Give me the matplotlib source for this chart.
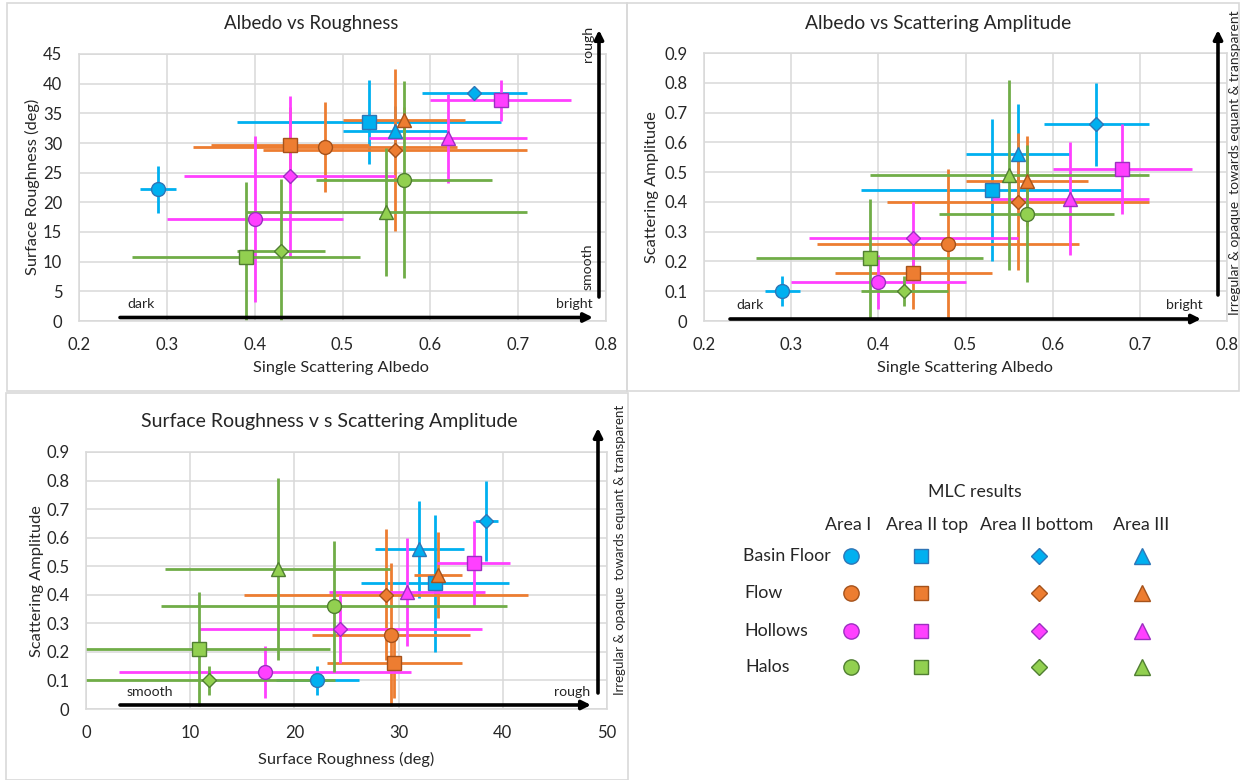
import matplotlib
matplotlib.use("Agg")
import matplotlib.pyplot as plt
from matplotlib.patches import Rectangle, FancyArrowPatch

plt.rcParams['font.family'] = ['Lato', 'DejaVu Sans']

# ---------------- data ----------------
materials = ["Basin Floor", "Flow", "Hollows", "Halos"]
areas = ["Area I", "Area II top", "Area II bottom", "Area III"]

# rows: materials, columns: areas
albedo = [[0.29, 0.53, 0.65, 0.56],
          [0.48, 0.44, 0.56, 0.57],
          [0.40, 0.68, 0.44, 0.62],
          [0.57, 0.39, 0.43, 0.55]]
albedo_err = [[0.02, 0.15, 0.06, 0.06],
              [0.15, 0.09, 0.15, 0.07],
              [0.10, 0.08, 0.12, 0.09],
              [0.10, 0.13, 0.05, 0.16]]
roughness = [[22.2, 33.5, 38.4, 32.0],
             [29.3, 29.6, 28.8, 33.8],
             [17.2, 37.2, 24.4, 30.8],
             [23.8, 10.8, 11.8, 18.4]]
roughness_err = [[4.0, 7.1, 1.1, 4.3],
                 [7.6, 6.5, 13.6, 2.3],
                 [14.0, 3.5, 13.6, 7.5],
                 [16.6, 12.6, 12.1, 10.8]]
amplitude = [[0.10, 0.44, 0.66, 0.56],
             [0.26, 0.16, 0.40, 0.47],
             [0.13, 0.51, 0.28, 0.41],
             [0.36, 0.21, 0.10, 0.49]]
amplitude_err = [[0.05, 0.24, 0.14, 0.17],
                 [0.25, 0.12, 0.23, 0.15],
                 [0.09, 0.15, 0.12, 0.19],
                 [0.23, 0.20, 0.05, 0.32]]

line_colors = ["#00B0F0", "#ED7D31", "#FF40FF", "#70AD47"]
face_colors = ["#00B0F0", "#ED7D31", "#FF40FF", "#92D050"]
edge_colors = ["#2E75B6", "#A5521B", "#9B30C0", "#507E32"]
markers = ["o", "s", "D", "^"]
msizes = [10, 9.5, 7.5, 10.5]

W, H = 1246, 780
fig = plt.figure(figsize=(W / 100, H / 100), dpi=100)
fig.patch.set_facecolor("white")


def fx(x):
    return x / W


def fy(y):
    return 1 - y / H


def box(x0, y0, x1, y1):
    return [fx(x0), fy(y1), (x1 - x0) / W, (y1 - y0) / H]


# panel borders
for (x0, y0, x1, y1) in [(7, 3, 627, 391), (627, 3, 1239, 391), (6, 393, 628, 780)]:
    fig.add_artist(Rectangle((fx(x0), fy(y1)), (x1 - x0) / W, (y1 - y0) / H,
                             transform=fig.transFigure, fill=False,
                             edgecolor="#D9D9D9", lw=1.2))

TXT = "#262626"
TICK_FS = 12
LAB_FS = 11.8


def make_axes(rect_px, xlim, xticks, ylim, yticks, xfmt, yfmt):
    ax = fig.add_axes(box(*rect_px))
    ax.set_xlim(*xlim)
    ax.set_ylim(*ylim)
    ax.set_xticks(xticks)
    ax.set_yticks(yticks)
    ax.set_xticklabels([xfmt(v) for v in xticks])
    ax.set_yticklabels([yfmt(v) for v in yticks])
    ax.grid(True, color="#D9D9D9", lw=1.1)
    ax.set_axisbelow(True)
    for s in ax.spines.values():
        s.set_color("#D9D9D9")
        s.set_linewidth(1.1)
    ax.tick_params(length=0, labelsize=TICK_FS, colors=TXT)
    ax.tick_params(axis="y", pad=12)
    ax.tick_params(axis="x", pad=11.5)
    return ax


def plot_series(ax, xs, xerr, ys, yerr):
    for m in range(4):
        for a in range(4):
            ax.errorbar(xs[m][a], ys[m][a], xerr=xerr[m][a], yerr=yerr[m][a],
                        fmt="none", ecolor=line_colors[m], elinewidth=2.0,
                        capsize=0, zorder=2)
    for m in range(4):
        for a in range(4):
            ax.plot(xs[m][a], ys[m][a], linestyle="none", marker=markers[a],
                    markersize=msizes[a], markerfacecolor=face_colors[m],
                    markeredgecolor=edge_colors[m], markeredgewidth=1.0,
                    zorder=3, clip_on=False)


def f1(v):
    return f"{v:.1f}"


def f0(v):
    return f"{v:g}"


def arrow(x0, y0, x1, y1):
    fig.add_artist(FancyArrowPatch((fx(x0), fy(y0)), (fx(x1), fy(y1)),
                                   transform=fig.transFigure,
                                   arrowstyle="-|>", mutation_scale=13,
                                   lw=2.6, color="black", shrinkA=0, shrinkB=0))


def axpos(px, py, rect_px):
    x0, y0, x1, y1 = rect_px
    return (px - x0) / (x1 - x0), (y1 - py) / (y1 - y0)


def axis_labels(ax, rect_px, xl, xpos, yl, ypos):
    ax.set_xlabel(xl, fontsize=LAB_FS, color=TXT)
    ax.set_ylabel(yl, fontsize=LAB_FS, color=TXT)
    ax.xaxis.label.set_va("center")
    ax.yaxis.label.set_va("center")
    ax.xaxis.set_label_coords(*axpos(*xpos, rect_px))
    ax.yaxis.set_label_coords(*axpos(*ypos, rect_px))


# ---------------- chart 1: Albedo vs Roughness ----------------
r1 = (79, 54, 606, 321)
ax1 = make_axes(r1, (0.2, 0.8), [0.2, 0.3, 0.4, 0.5, 0.6, 0.7, 0.8],
                (0, 45), list(range(0, 50, 5)), f1, f0)
plot_series(ax1, albedo, albedo_err, roughness, roughness_err)
axis_labels(ax1, r1, "Single Scattering Albedo", (341, 368),
            "Surface Roughness (deg)", (32, 187))
fig.text(fx(311), fy(24), "Albedo vs Roughness", fontsize=13.4, color=TXT,
         ha="center", va="center")
arrow(120, 317.5, 593, 317.5)
arrow(599, 297, 599, 30)
fig.text(fx(127), fy(304), "dark", fontsize=10.2, color=TXT, ha="left", va="center")
fig.text(fx(593), fy(304), "bright", fontsize=10.2, color=TXT, ha="right", va="center")
fig.text(fx(588), fy(44), "rough", fontsize=10.2, color=TXT, ha="center",
         va="center", rotation=90)
fig.text(fx(588), fy(267), "smooth", fontsize=10.2, color=TXT, ha="center",
         va="center", rotation=90)

# ---------------- chart 2: Albedo vs Scattering Amplitude ----------------
r2 = (704, 53, 1227, 321)
ax2 = make_axes(r2, (0.2, 0.8), [0.2, 0.3, 0.4, 0.5, 0.6, 0.7, 0.8],
                (0, 0.9), [i / 10 for i in range(10)], f1, f0)
plot_series(ax2, albedo, albedo_err, amplitude, amplitude_err)
axis_labels(ax2, r2, "Single Scattering Albedo", (965, 368),
            "Scattering Amplitude", (652, 187))
fig.text(fx(938), fy(24), "Albedo vs Scattering Amplitude", fontsize=13.9,
         color=TXT, ha="center", va="center")
arrow(730, 319, 1201, 319)
arrow(1218, 295, 1218, 30)
fig.text(fx(736), fy(305), "dark", fontsize=10.2, color=TXT, ha="left", va="center")
fig.text(fx(1203), fy(305), "bright", fontsize=10.2, color=TXT, ha="right", va="center")
fig.text(fx(1235), fy(163), "Irregular & opaque  towards equant & transparent",
         fontsize=10, color=TXT, ha="center", va="center", rotation=90)

# ---------------- chart 3: Surface Roughness vs Scattering Amplitude ----------------
r3 = (86, 452, 607, 709)
ax3 = make_axes(r3, (0, 50), [0, 10, 20, 30, 40, 50],
                (0, 0.9), [i / 10 for i in range(10)], f0, f0)
plot_series(ax3, roughness, roughness_err, amplitude, amplitude_err)
axis_labels(ax3, r3, "Surface Roughness (deg)", (346, 759),
            "Scattering Amplitude", (37, 581))
fig.text(fx(329), fy(421), "Surface Roughness v s Scattering Amplitude",
         fontsize=14, color=TXT, ha="center", va="center")
arrow(120, 705, 591, 705)
arrow(598, 693, 598, 428)
fig.text(fx(127), fy(692), "smooth", fontsize=10.2, color=TXT, ha="left", va="center")
fig.text(fx(590), fy(692), "rough", fontsize=10.2, color=TXT, ha="right", va="center")
fig.text(fx(620), fy(550), "Irregular & opaque  towards equant & transparent",
         fontsize=9.5, color=TXT, ha="center", va="center", rotation=90)

# ---------------- legend panel ----------------
lax = fig.add_axes([0, 0, 1, 1], facecolor="none")
lax.set_xlim(0, W)
lax.set_ylim(H, 0)
lax.axis("off")
LEG_FS = 12.8
lax.text(975, 492, "MLC results", fontsize=LEG_FS, color=TXT, ha="center", va="center")
area_x = [848, 927, 1037, 1141]
marker_x = [851, 921, 1039, 1142]
row_y = [556, 593, 631, 667]
row_x = [743, 744, 744, 745]
for a in range(4):
    lax.text(area_x[a], 525, areas[a], fontsize=LEG_FS, color=TXT, ha="center", va="center")
for m in range(4):
    lax.text(row_x[m], row_y[m], materials[m], fontsize=LEG_FS, color=TXT,
             ha="left", va="center")
    for a in range(4):
        lax.plot(marker_x[a], row_y[m], linestyle="none", marker=markers[a],
                 markersize=msizes[a] + 1, markerfacecolor=face_colors[m],
                 markeredgecolor=edge_colors[m], markeredgewidth=1.0)

fig.savefig("out.png", dpi=100)
